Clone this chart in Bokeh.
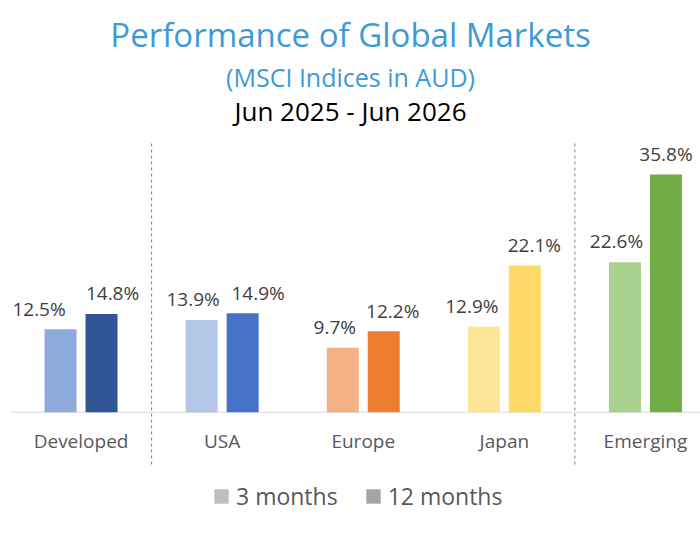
from bokeh.plotting import figure
from bokeh.models import (ColumnDataSource, Range1d, Label, Legend, LegendItem)
from bokeh.core.properties import value
from bokeh.embed import file_html
from bokeh.resources import INLINE

# ---- data ----
categories = ["Developed", "USA", "Europe", "Japan", "Emerging"]
three_month = [12.5, 13.9, 9.7, 12.9, 22.6]
twelve_month = [14.8, 14.9, 12.2, 22.1, 35.8]
series_names = ["3 months", "12 months"]
separators_after = ["Developed", "Japan"]

# ---- styles ----
colors_3m = ["#8FAADC", "#B4C7E7", "#F4B183", "#FFE699", "#A9D18E"]
colors_12m = ["#2F5597", "#4472C4", "#ED7D31", "#FFD966", "#70AD47"]
legend_colors = ["#BFBFBF", "#A5A5A5"]
label_shift_3m = [-21.5, -8.5, -8, -12, -8.5]     # screen px nudges of the value labels
label_shift_12m = [11, 15.5, 9, 9.5, 0]
FONT = "Open Sans"
TITLE_BLUE = "#3E9AD5"

W, H = 700, 533
px_per_cat = 141.1
px_per_pct = 6.64
base_px = 411.7      # pixel row of the zero line (from top)
left_px = 10         # pixel column of category -0.5
bar_w = 32 / px_per_cat
dodge = 20.5 / px_per_cat


def bl(size):
    """correction of the alphabetic baseline of svg text (px)"""
    return 0.35 * size


x_start = -0.5 - left_px / px_per_cat
x_end = x_start + W / px_per_cat
y_top = base_px / px_per_pct
y_bot = -(H - base_px) / px_per_pct

p = figure(width=W, height=H, output_backend="svg", toolbar_location=None,
           x_range=Range1d(x_start, x_end), y_range=Range1d(y_bot, y_top),
           min_border=0, min_border_left=0, min_border_right=0,
           min_border_top=0, min_border_bottom=0)
p.axis.visible = False
p.grid.visible = False
p.outline_line_color = None
p.background_fill_color = "white"
p.border_fill_color = "white"

idx = list(range(len(categories)))
src = ColumnDataSource(dict(
    x3=[i - dodge for i in idx], x12=[i + dodge for i in idx],
    v3=three_month, v12=twelve_month,
    c3=colors_3m, c12=colors_12m,
    dx3=label_shift_3m, dx12=label_shift_12m,
    l3=[f"{v:.1f}%" for v in three_month], l12=[f"{v:.1f}%" for v in twelve_month],
    cx=idx, cat=categories,
))

# baseline
p.segment(x0=[-0.5], y0=[0], x1=[x_end], y1=[0], line_color="#D9D9D9", line_width=1)

# separators
sep_x = [categories.index(c) + 0.5 for c in separators_after]
sep_top = (base_px - 143) / px_per_pct
sep_bot = -(467 - base_px) / px_per_pct
p.segment(x0=sep_x, y0=[sep_top] * len(sep_x), x1=sep_x, y1=[sep_bot] * len(sep_x),
          line_color="#808080", line_width=1, line_dash="3 3")

# bars
p.vbar(x="x3", top="v3", bottom=0, width=bar_w, fill_color="c3", line_color=None, source=src)
p.vbar(x="x12", top="v12", bottom=0, width=bar_w, fill_color="c12", line_color=None, source=src)

# value labels
VS = 19
p.text(x="x3", y="v3", text="l3", source=src, text_font=value(FONT), text_font_size=f"{VS}px",
       text_color="#404040", text_align="center", text_baseline="alphabetic",
       x_offset="dx3", y_offset=-14 - bl(VS))
p.text(x="x12", y="v12", text="l12", source=src, text_font=value(FONT), text_font_size=f"{VS}px",
       text_color="#404040", text_align="center", text_baseline="alphabetic",
       x_offset="dx12", y_offset=-14 - bl(VS))

# category labels
cat_y = -(446.7 - base_px) / px_per_pct
p.text(x="cx", y=cat_y, text="cat", source=src, text_font=value(FONT), text_font_size=f"{VS}px",
       text_color="#595959", text_align="center", text_baseline="alphabetic",
       y_offset=-bl(VS))

# titles
for txt, size, base, col in [("Performance of Global Markets", 33, 46, TITLE_BLUE),
                             ("(MSCI Indices in AUD)", 25, 85, TITLE_BLUE),
                             ("Jun 2025 - Jun 2026", 26, 119.3, "#000000")]:
    p.add_layout(Label(x=W / 2, y=H - base + bl(size), x_units="screen", y_units="screen",
                       text=txt, text_font=FONT, text_font_size=f"{size}px",
                       text_color=col, text_align="center", text_baseline="alphabetic"))

# legend (proxy renderers placed far outside the visible ranges)
dummy = []
for c in legend_colors:
    dummy.append(p.vbar(x=[x_start - 50], top=[y_bot - 100], bottom=[y_bot - 200], width=0.1,
                        fill_color=c, line_color=None))
legend = Legend(items=[LegendItem(label=n, renderers=[r]) for n, r in zip(series_names, dummy)],
                orientation="horizontal", location=(212, 533 - 498 - 14),
                glyph_width=18, glyph_height=18, label_standoff=6, spacing=26,
                padding=0, margin=0, border_line_alpha=0, background_fill_alpha=0,
                label_text_font=FONT, label_text_font_size="23px", label_text_color="#595959",
                label_height=18)
p.add_layout(legend, "center")

open("out.html", "w").write(file_html(p, INLINE))
